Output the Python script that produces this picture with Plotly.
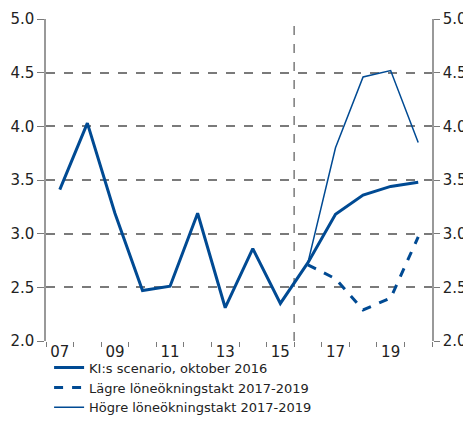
import plotly.graph_objects as go

years = list(range(2007, 2021))
scenario = [3.41, 4.03, 3.19, 2.47, 2.51, 3.19, 2.31, 2.86, 2.35, 2.73, 3.18, 3.36, 3.44, 3.48]
lower_years = [2016, 2017, 2018, 2019, 2020]
lower = [2.71, 2.58, 2.29, 2.40, 2.97]
higher_years = [2016, 2017, 2018, 2019, 2020]
higher = [2.73, 3.80, 4.46, 4.52, 3.85]

x_labels_vals = [2007, 2009, 2011, 2013, 2015, 2017, 2019]
x_labels = ["07", "09", "11", "13", "15", "17", "19"]
y_ticks = [2.0, 2.5, 3.0, 3.5, 4.0, 4.5, 5.0]

blue = "#004A93"
grid = "#7a7a7a"

fig = go.Figure()
fig.add_trace(go.Scatter(x=years, y=scenario, mode="lines", name="KI:s scenario, oktober 2016",
                         line=dict(color=blue, width=3)))
fig.add_trace(go.Scatter(x=lower_years, y=lower, mode="lines", name="Lägre löneökningstakt 2017-2019",
                         line=dict(color=blue, width=3, dash="dash")))
fig.add_trace(go.Scatter(x=higher_years, y=higher, mode="lines", name="Högre löneökningstakt 2017-2019",
                         line=dict(color=blue, width=1.5)))
fig.add_trace(go.Scatter(x=[2010], y=[3], yaxis="y2", mode="lines", showlegend=False,
                         hoverinfo="skip", line=dict(color="rgba(0,0,0,0)")))

fig.add_shape(type="line", x0=2015.5, x1=2015.5, y0=2.0, y1=5.0, xref="x", yref="y",
              line=dict(color=grid, width=1.5, dash="dash"), layer="below")

tfont = dict(family="DejaVu Sans, Verdana, sans-serif", size=15, color="#222")
lfont = dict(family="DejaVu Sans, Verdana, sans-serif", size=13, color="#222")

fig.update_layout(
    width=463, height=407,
    margin=dict(l=38, r=39, t=11, b=74, autoexpand=False),
    paper_bgcolor="white", plot_bgcolor="white",
    font=tfont,
    showlegend=True,
    legend=dict(x=0.008, xanchor="left", y=-0.036, yanchor="top", font=lfont,
                tracegroupgap=0, itemwidth=30, bgcolor="rgba(0,0,0,0)"),
    xaxis=dict(range=[2006.5, 2020.5], tickvals=x_labels_vals, ticktext=x_labels,
               ticks="", showgrid=False, showline=False, zeroline=False,
               minor=dict(tickvals=[y + 0.5 for y in range(2006, 2021)], ticks="outside",
                          ticklen=5, tickcolor=grid, showgrid=False),
               tickfont=tfont),
    yaxis=dict(range=[2.0, 5.0], tickvals=y_ticks, tickformat=".1f", ticks="outside",
               ticklen=7, tickcolor=grid, showline=True, linecolor="#999", linewidth=1.5,
               showgrid=True, gridcolor=grid, griddash="dash", gridwidth=1.5, zeroline=False,
               tickfont=tfont),
    yaxis2=dict(range=[2.0, 5.0], tickvals=y_ticks, tickformat=".1f", ticks="outside",
                ticklen=6, tickcolor=grid, showline=True, linecolor="#999", linewidth=1.5,
                overlaying="y", side="right", showgrid=False, zeroline=False, tickfont=tfont),
)

fig.write_html("out.html")
